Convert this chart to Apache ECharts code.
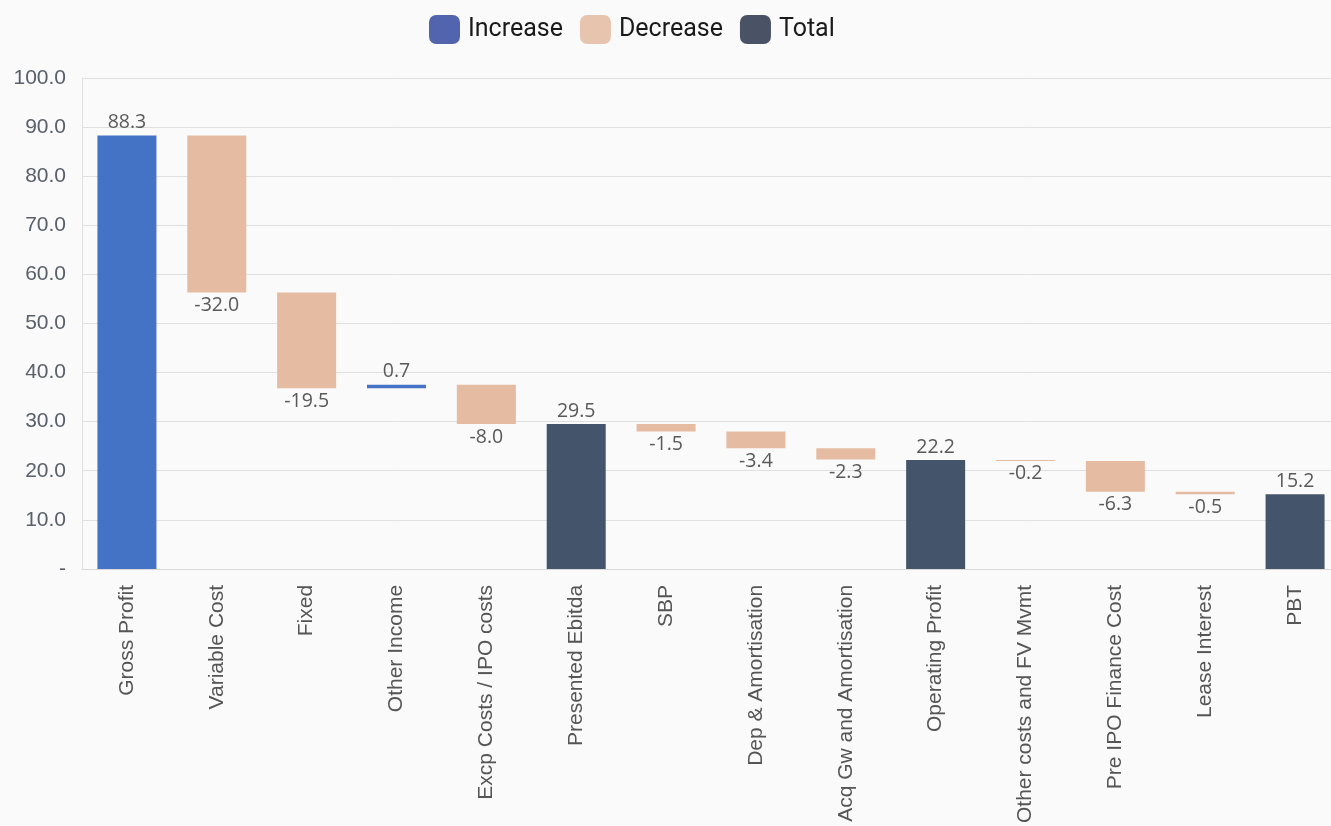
<!DOCTYPE html>
<html>
<head>
<meta charset="utf-8">
<script src="https://cdn.jsdelivr.net/npm/echarts@6/dist/echarts.min.js"></script>
<style>
  html, body { margin: 0; padding: 0; background: #fafafa; overflow: hidden; }
  /* the plot runs a little past the right edge of the window */
  #chart { width: 1340px; height: 826px; }
</style>
</head>
<body>
<div id="chart"></div>
<script>
// Profit bridge: Gross Profit down to PBT
const categories = [
  'Gross Profit', 'Variable Cost', 'Fixed', 'Other Income', 'Excp Costs / IPO costs',
  'Presented Ebitda', 'SBP', 'Dep & Amortisation', 'Acq Gw and Amortisation',
  'Operating Profit', 'Other costs and FV Mvmt', 'Pre IPO Finance Cost', 'Lease Interest', 'PBT'
];
// step values; totals hold the subtotal itself
const steps = [88.3, -32.0, -19.5, 0.7, -8.0, 29.5, -1.5, -3.4, -2.3, 22.2, -0.2, -6.3, -0.5, 15.2];
const kinds = ['inc', 'dec', 'dec', 'inc', 'dec', 'total', 'dec', 'dec', 'dec', 'total', 'dec', 'dec', 'dec', 'total'];

const COLORS = { inc: '#4472C4', dec: '#E5BBA1', total: '#44546A' };

// build floating-bar stacks
const base = [], inc = [], dec = [], tot = [];
let running = 0;
steps.forEach((v, i) => {
  const k = kinds[i];
  if (k === 'total') {
    base.push(0); inc.push('-'); dec.push('-'); tot.push(v);
    running = v;
  } else if (k === 'inc') {
    base.push(running); inc.push(v); dec.push('-'); tot.push('-');
    running += v;
  } else {
    running += v;
    base.push(running); inc.push('-'); dec.push(-v); tot.push('-');
  }
});

const labelFont = { fontFamily: 'Open Sans', fontSize: 19.5, color: '#595959' };
const fmt = p => steps[p.dataIndex].toFixed(1);

const chart = echarts.init(document.getElementById('chart'));
chart.setOption({
  backgroundColor: '#fafafa',
  animation: false,
  legend: {
    data: [
      { name: 'Increase', itemStyle: { color: '#5264AE' } },
      { name: 'Decrease', itemStyle: { color: '#E6C4AE' } },
      { name: 'Total', itemStyle: { color: '#4A5266' } }
    ],
    top: 10,
    left: 424,
    icon: 'roundRect',
    itemWidth: 31,
    itemHeight: 29,
    itemGap: 17,
    textStyle: { fontFamily: 'Roboto', fontSize: 25, color: '#1a1a1a', padding: [0, 0, 0, 3] }
  },
  grid: { left: 82, right: 0, top: 78, bottom: 257, containLabel: false },
  xAxis: {
    type: 'category',
    data: categories,
    axisLine: { show: true, lineStyle: { color: '#d9d9d9' } },
    axisTick: { show: false },
    axisLabel: {
      rotate: 90, interval: 0, margin: 16,
      fontFamily: 'Liberation Sans', fontSize: 21, color: '#555'
    }
  },
  yAxis: {
    type: 'value',
    min: 0, max: 100, interval: 10,
    axisLine: { show: true, lineStyle: { color: '#e0e0e0' } },
    axisTick: { show: false },
    splitLine: { lineStyle: { color: '#e0e0e0', width: 1 } },
    axisLabel: {
      margin: 16,
      fontFamily: 'Liberation Sans', fontSize: 21, color: '#59606b',
      formatter: v => v === 0 ? '-' : v.toFixed(1)
    }
  },
  series: [
    {
      name: 'base', type: 'bar', stack: 'w', data: base, barWidth: 59,
      itemStyle: { color: 'transparent' }, emphasis: { disabled: true }, silent: true
    },
    {
      name: 'Increase', type: 'bar', stack: 'w', data: inc, barWidth: 59,
      itemStyle: { color: COLORS.inc },
      label: { show: true, position: 'top', distance: 3, formatter: fmt, ...labelFont }
    },
    {
      name: 'Decrease', type: 'bar', stack: 'w', data: dec, barWidth: 59,
      itemStyle: { color: COLORS.dec },
      label: { show: true, position: 'bottom', distance: 3, formatter: fmt, ...labelFont }
    },
    {
      name: 'Total', type: 'bar', stack: 'w', data: tot, barWidth: 59,
      itemStyle: { color: COLORS.total },
      label: { show: true, position: 'top', distance: 3, formatter: fmt, ...labelFont }
    }
  ]
});
</script>
</body>
</html>
